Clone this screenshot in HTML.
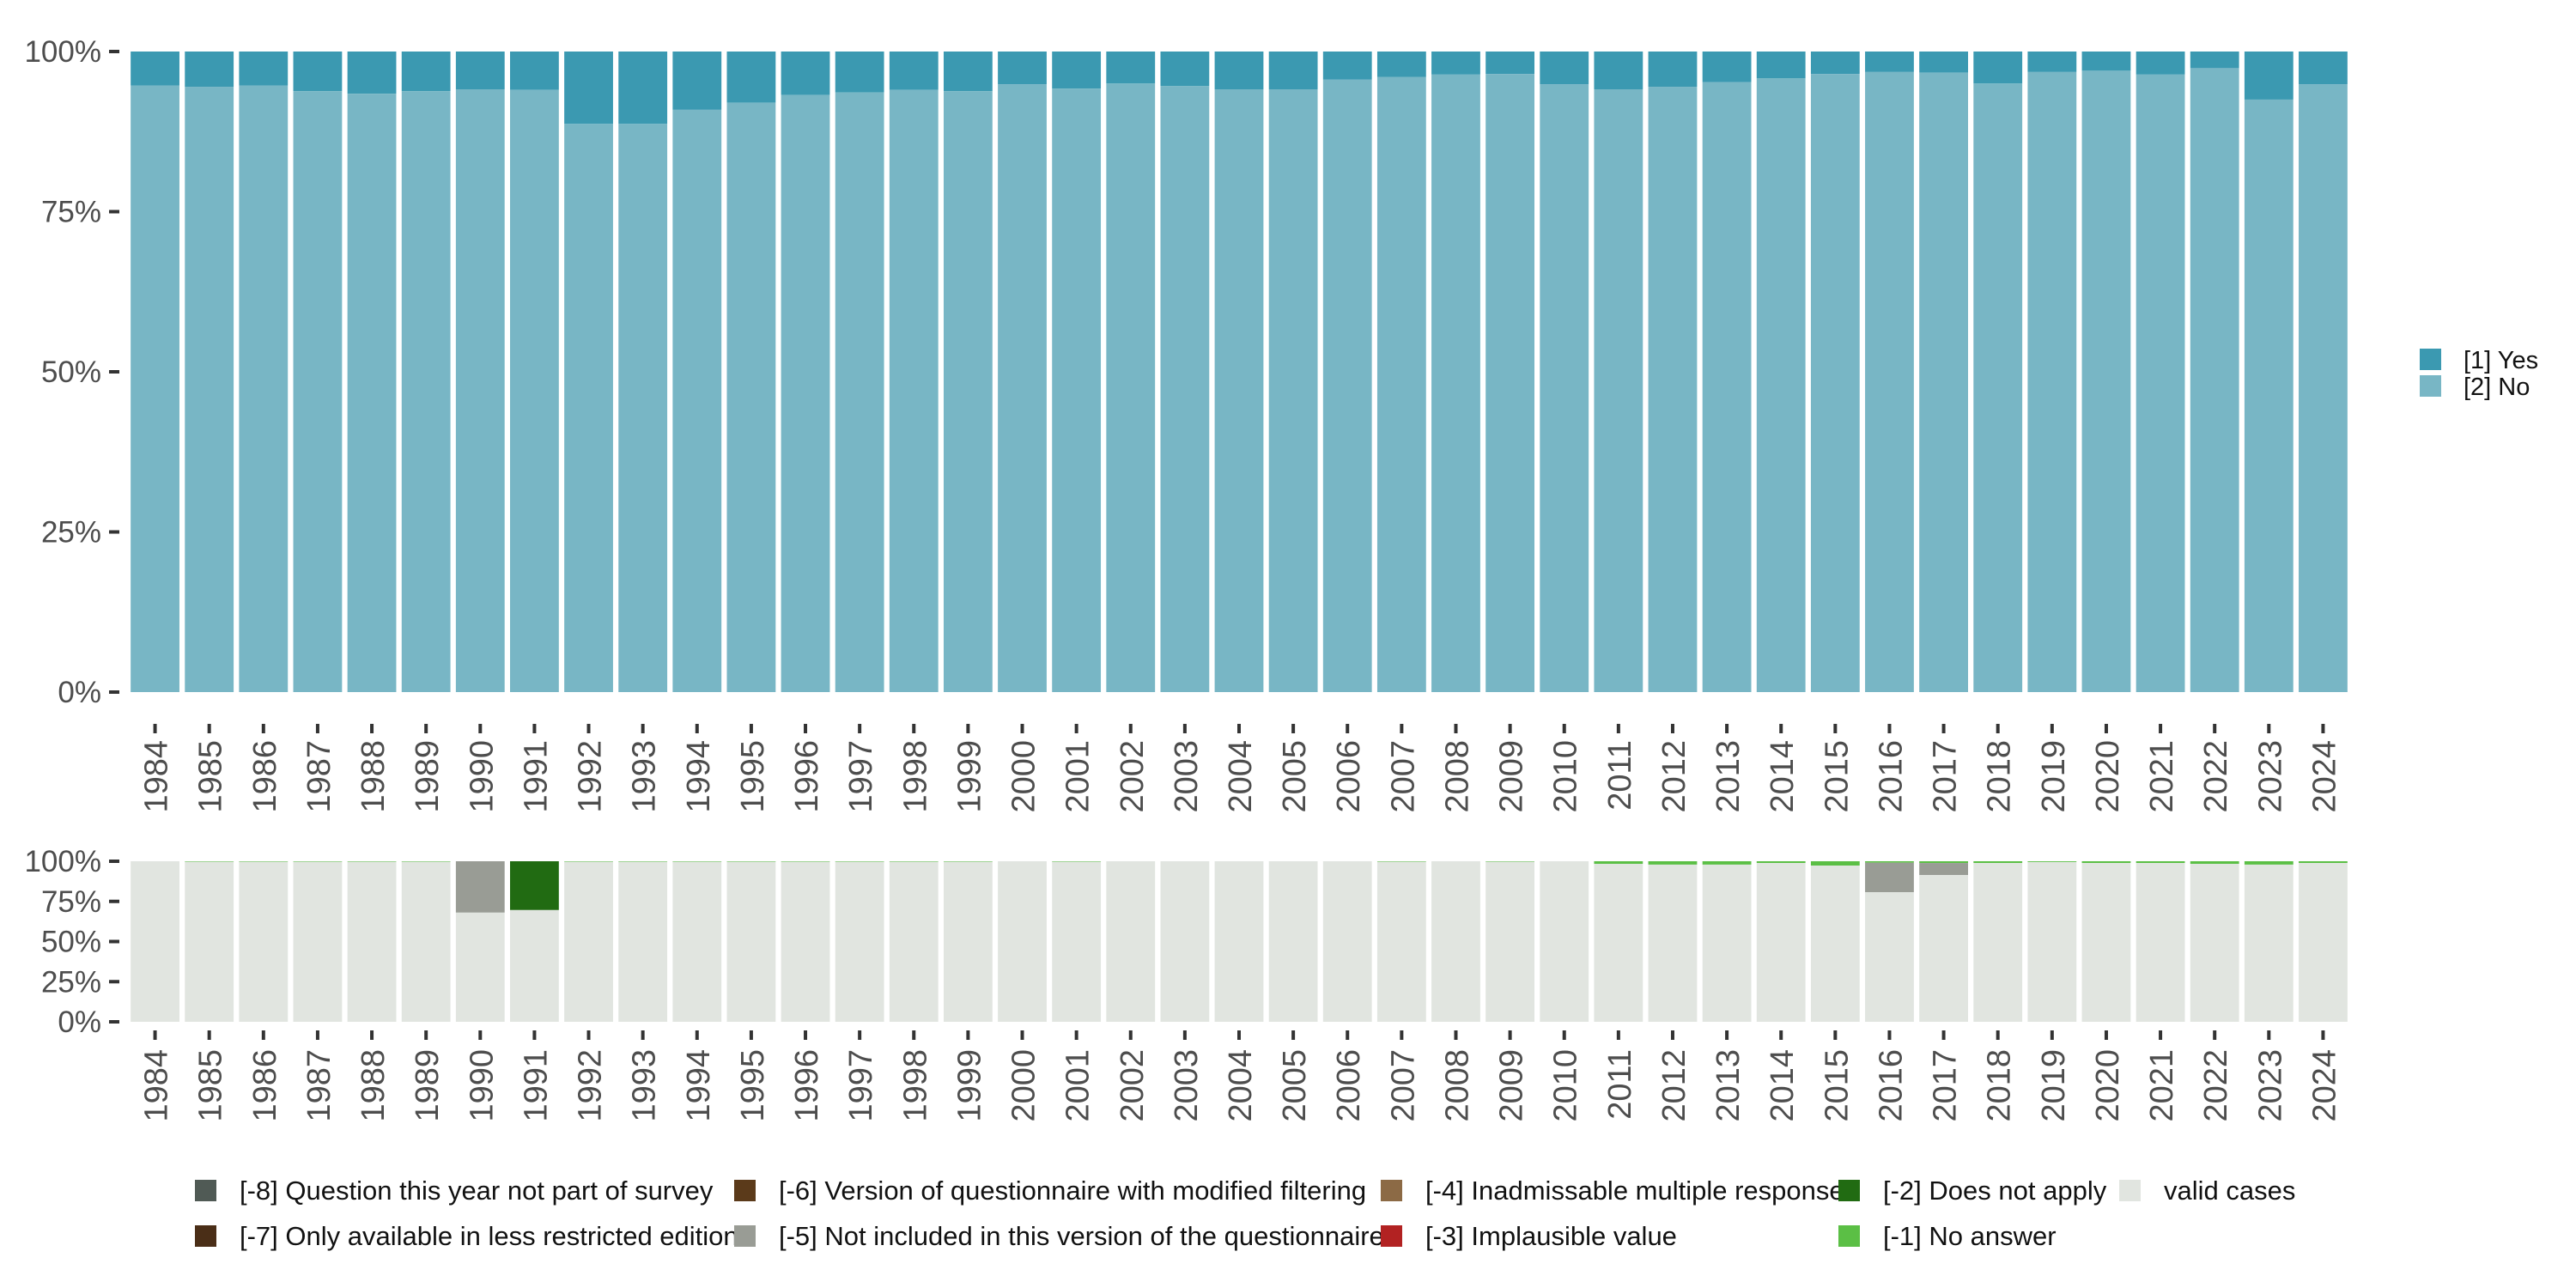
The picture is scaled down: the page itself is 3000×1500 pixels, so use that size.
<!DOCTYPE html>
<html><head><meta charset="utf-8"><style>
html,body{margin:0;padding:0;background:#fff}
svg{display:block;font-family:"Liberation Sans",sans-serif}
</style></head><body>
<svg id="chart" width="3000" height="1500" viewBox="0 0 3000 1500" xmlns="http://www.w3.org/2000/svg">
<g id="topPanel"></g>
<g id="botPanel"></g>
<g font-size="29" fill="#111">
 <rect x="2818" y="406" width="25" height="25" fill="#3b99b1"/>
 <text x="2869" y="429">[1] Yes</text>
 <rect x="2818" y="437" width="25" height="25" fill="#78b6c5"/>
 <text x="2869" y="460">[2] No</text>
</g>
<g id="leg2" font-size="31" fill="#111"></g>
</svg>
<script>
const years = [];
for (let y = 1984; y <= 2024; y++) years.push(String(y));
const yesPct = [5.3,5.5,5.3,6.2,6.6,6.2,5.9,6.0,11.3,11.3,9.1,8.0,6.8,6.4,6.0,6.2,5.1,5.8,5.0,5.4,5.9,5.9,4.4,4.0,3.6,3.5,5.1,5.9,5.5,4.8,4.2,3.5,3.2,3.3,5.0,3.2,3.0,3.6,2.6,7.5,5.1];
const noPct = yesPct.map(v => 100 - v);
const notIncludedPct = [0,0,0,0,0,0,32,0,0,0,0,0,0,0,0,0,0,0,0,0,0,0,0,0,0,0,0,0,0,0,0,0,18.4,7.5,0,0,0,0,0,0,0];
const doesNotApplyPct = [0,0,0,0,0,0,0,30.4,0,0,0,0,0,0,0,0,0,0,0,0,0,0,0,0,0,0,0,0,0,0,0,0,0,0,0,0,0,0,0,0,0];
const noAnswerPct = [0,0.3,0.3,0.3,0.3,0.3,0,0,0.3,0.3,0.3,0.3,0.3,0.3,0.3,0.3,0,0.3,0,0,0,0,0,0.3,0,0.3,0,1.6,2.1,2.1,1.1,2.7,0.9,1.1,1.1,0.5,1.1,1.1,1.6,2.1,1.1];
const yTicks = [0,25,50,75,100];
const yTickLabels = ["0%","25%","50%","75%","100%"];

const NS = "http://www.w3.org/2000/svg";
function mk(parent, tag, attrs, txt) {
  const e = document.createElementNS(NS, tag);
  for (const k in attrs) e.setAttribute(k, attrs[k]);
  if (txt !== undefined) e.textContent = txt;
  parent.appendChild(e);
  return e;
}
const x0 = 149, pitch = (2737 - 149) / years.length, bw = pitch * 0.9;
function xPos(i) { return x0 + i * pitch + (pitch - bw) / 2; }
function xCenter(i) { return x0 + i * pitch + pitch / 2; }

function axes(g, scale, tickY, labY, name) {
  yTicks.forEach((t, i) => {
    const y = scale(t);
    const tk = mk(g, "rect", {x:127, y:y-2, width:12, height:4, fill:"#333"});
    
    
    const lb = mk(g, "text", {x:118, y:y+12, "text-anchor":"end", "font-size":35, fill:"#4d4d4d"}, yTickLabels[i]);
    
    
  });
  years.forEach((yr, i) => {
    const cx = xCenter(i);
    const tk = mk(g, "rect", {x:cx-2, y:tickY, width:4, height:11, fill:"#333"});
    
    
    const lb = mk(g, "text", {x:0, y:0, "text-anchor":"end", "font-size":38, fill:"#4d4d4d",
      transform:"translate(" + (cx + 14) + "," + labY + ") rotate(-90)"}, yr);
    
    
  });
}

// top panel
const topG = document.getElementById("topPanel");
const yTop = v => 806 - v * 7.46;
years.forEach((yr, i) => {
  const x = xPos(i);
  const r1 = mk(topG, "rect", {x:x, y:yTop(100), width:bw, height:yTop(noPct[i]) - yTop(100), fill:"#3b99b1"});
  
  
  const r2 = mk(topG, "rect", {x:x, y:yTop(noPct[i]), width:bw, height:yTop(0) - yTop(noPct[i]), fill:"#78b6c5"});
  
  
});
axes(topG, yTop, 843, 862, "top");

// bottom panel
const botG = document.getElementById("botPanel");
const yBot = v => 1190 - v * 1.87;
years.forEach((yr, i) => {
  const x = xPos(i);
  const segs = [
    [noAnswerPct[i], "#5bbf45", "no-answer"],
    [doesNotApplyPct[i], "#216b12", "does-not-apply"],
    [notIncludedPct[i], "#999c95", "not-included"]
  ];
  let cum = 100;
  segs.forEach(s => {
    if (s[0] > 0) {
      const r = mk(botG, "rect", {x:x, y:yBot(cum), width:bw, height:yBot(cum - s[0]) - yBot(cum), fill:s[1]});
      
      
      cum -= s[0];
    }
  });
  const v = mk(botG, "rect", {x:x, y:yBot(cum), width:bw, height:yBot(0) - yBot(cum), fill:"#e1e5e0"});
  
  
});
axes(botG, yBot, 1200, 1222, "bottom");

// bottom legend
const legItems = [
  [227, 1374, "#505a55", "[-8] Question this year not part of survey"],
  [227, 1427, "#4a2e17", "[-7] Only available in less restricted edition"],
  [855, 1374, "#5b3a1a", "[-6] Version of questionnaire with modified filtering"],
  [855, 1427, "#999c95", "[-5] Not included in this version of the questionnaire"],
  [1608, 1374, "#8c6a45", "[-4] Inadmissable multiple response"],
  [1608, 1427, "#b22222", "[-3] Implausible value"],
  [2141, 1374, "#216b12", "[-2] Does not apply"],
  [2141, 1427, "#5bbf45", "[-1] No answer"],
  [2468, 1374, "#e1e5e0", "valid cases"]
];
const leg2 = document.getElementById("leg2");
legItems.forEach(it => {
  const s = mk(leg2, "rect", {x:it[0], y:it[1], width:25, height:25, fill:it[2]});
  
  
  const t = mk(leg2, "text", {x:it[0] + 52, y:it[1] + 23}, it[3]);
  
  
});
</script>
</body></html>
